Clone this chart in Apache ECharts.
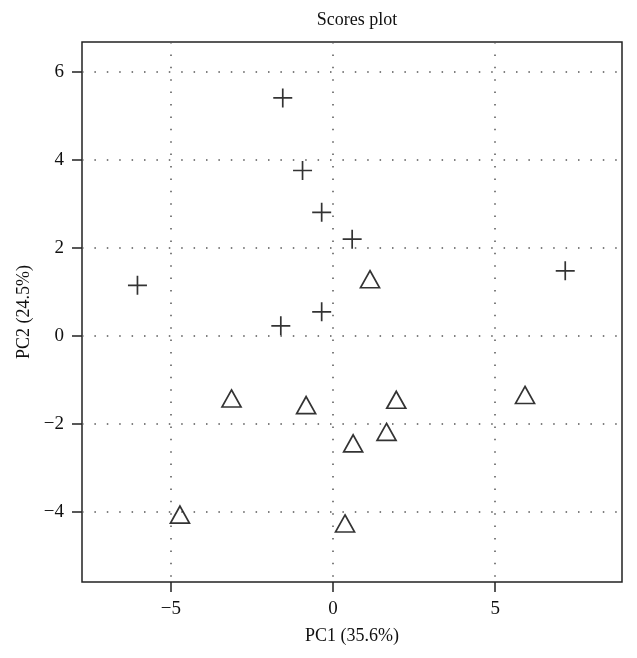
<!DOCTYPE html>
<html>
<head>
<meta charset="utf-8">
<script src="https://cdn.jsdelivr.net/npm/echarts@6/dist/echarts.min.js"></script>
<style>html,body{margin:0;padding:0;background:#fff}#c{width:637px;height:658px}</style>
</head>
<body>
<div id="c"></div>
<script>
const titleText = 'Scores plot';
const xName = 'PC1 (35.6%)';
const yName = 'PC2 (24.5%)';
const xTicks = [-5, 0, 5];
const yTicks = [-4, -2, 0, 2, 4, 6];
const crossX = [-1.55, -0.94, -0.35, 0.59, -6.03, 7.16, -0.35, -1.61];
const crossY = [5.41, 3.76, 2.81, 2.20, 1.15, 1.48, 0.55, 0.23];
const triX = [1.14, 1.95, 5.92, 1.65, 0.62, -3.13, -0.83, -4.72, 0.37];
const triY = [1.29, -1.45, -1.34, -2.18, -2.44, -1.42, -1.57, -4.06, -4.26];

const font = '"Liberation Serif", "DejaVu Serif", serif';
const fmt = v => String(v).replace('-', '\u2212');
const pairs = (xs, ys) => xs.map((x, i) => [x, ys[i]]);

const chart = echarts.init(document.getElementById('c'), null, {renderer: 'canvas'});
const axisCommon = {
  axisLine: {show: false, onZero: false},
  axisTick: {show: true, inside: false, length: 10, lineStyle: {color: '#222', width: 1.5}},
  splitLine: {show: true, lineStyle: {color: '#555', width: 1.5, type: [1.5, 10.9]}},
  axisLabel: {color: '#111', fontFamily: font, fontSize: 19, formatter: fmt},
  nameLocation: 'middle',
  nameTextStyle: {color: '#111', fontFamily: font, fontSize: 18}
};
chart.setOption({
  animation: false,
  backgroundColor: '#fff',
  title: {
    text: titleText, left: 352, top: 6, textAlign: 'center',
    textStyle: {fontFamily: font, fontSize: 18, fontWeight: 'normal', color: '#111'}
  },
  grid: {left: 82, right: 15, top: 42, bottom: 76, show: true, borderColor: '#222', borderWidth: 1.5, backgroundColor: 'transparent'},
  xAxis: Object.assign({}, axisCommon, {
    type: 'value', min: -7.74, max: 8.91, name: xName, nameGap: 45,
    axisTick: Object.assign({}, axisCommon.axisTick, {customValues: xTicks}),
    axisLabel: Object.assign({}, axisCommon.axisLabel, {customValues: xTicks, margin: 18})
  }),
  yAxis: Object.assign({}, axisCommon, {
    type: 'value', min: -5.59, max: 6.68, name: yName, nameGap: 49,
    axisTick: Object.assign({}, axisCommon.axisTick, {customValues: yTicks}),
    axisLabel: Object.assign({}, axisCommon.axisLabel, {customValues: yTicks, margin: 18})
  }),
  series: [
    {
      type: 'scatter', data: pairs(crossX, crossY),
      symbol: 'path://M0,10H20M10,0V20', symbolSize: 19,
      itemStyle: {color: 'none', borderColor: '#000', borderWidth: 1.7},
      emphasis: {disabled: true}
    },
    {
      type: 'scatter', data: pairs(triX, triY),
      symbol: 'triangle', symbolSize: [19, 17],
      itemStyle: {color: 'none', borderColor: '#000', borderWidth: 1.7},
      emphasis: {disabled: true}
    }
  ]
});
</script>
</body>
</html>
